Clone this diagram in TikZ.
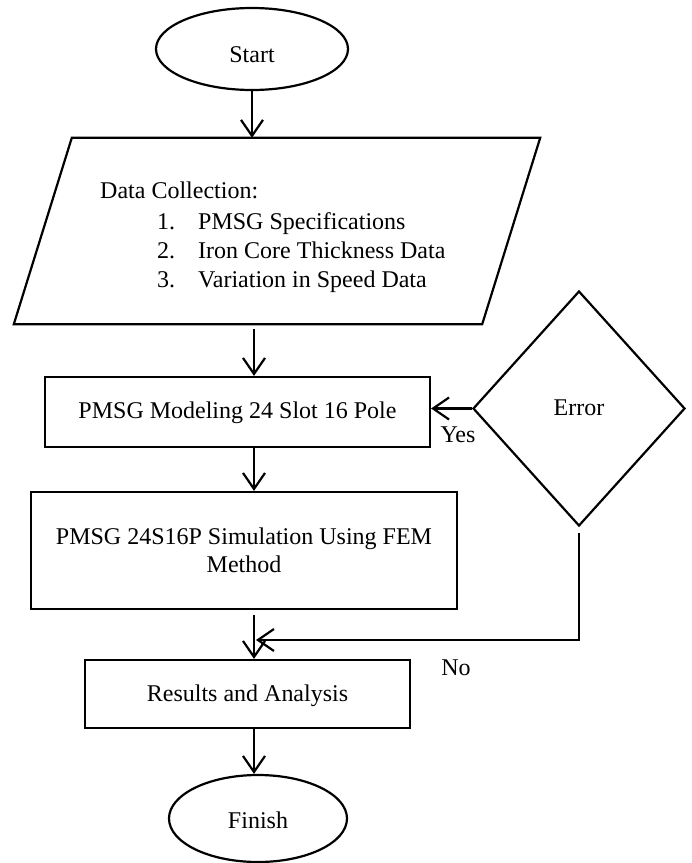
\documentclass[tikz,border=0pt]{standalone}
\usepackage{fontspec}
\setmainfont{Liberation Serif}
\usetikzlibrary{shapes.geometric,arrows.meta}

\begin{document}
\begin{tikzpicture}[x=1pt,y=-1pt,
  every node/.style={font=\fontsize{24}{28}\selectfont, inner sep=0pt},
  line/.style={line width=2.2pt},
  arr/.style={line, -{Straight Barb[length=16pt,width=22pt]}},
  bl/.style={text height=#1, text depth=0pt},
  terminal/.style={draw, line, ellipse},
  procbox/.style={draw, line, rectangle, align=center},
  decision/.style={draw, line, diamond},
  lbl/.style={anchor=base}
]
\useasboundingbox (0,0) rectangle (692,863);

% shared vertical axis of the main flow
\coordinate (spine) at (254,0);

% terminals, process boxes and the decision
\node[terminal, bl=26pt, minimum width=192pt, minimum height=82pt] (start) at (252,49) {Start};
\node[rectangle, minimum width=526pt, minimum height=186pt] (data) at (277,231) {};
\node[procbox, bl=12pt, minimum width=385pt, minimum height=70pt] (model) at (237.5,412) {PMSG Modeling 24 Slot 16 Pole};
\node[procbox, minimum width=426pt, minimum height=117pt] (sim) at (244,550.5) {PMSG 24S16P Simulation Using FEM\\Method};
\node[procbox, bl=14pt, minimum width=325pt, minimum height=68pt] (res) at (247.5,694) {Results and Analysis};
\node[terminal, bl=19pt, minimum width=178pt, minimum height=87pt] (finish) at (258,818.5) {Finish};
\node[decision, bl=13pt, minimum width=212pt, minimum height=235pt] (error) at (579,408.5) {Error};

% slanted outline of the data input block
\draw[line, line join=miter] (data.south west) -- ([xshift=-58pt]data.south east)
  -- (data.north east) -- ([xshift=58pt]data.north west) -- cycle;

% list inside the data input block
\node[anchor=base west] (dchead) at (100,198) {Data Collection:};
\node[anchor=base west] (n1) at (157,229) {1.};
\node[anchor=base west] (i1) at (198,229) {PMSG Specifications};
\node[anchor=base west] (n2) at (157,258) {2.};
\node[anchor=base west] (i2) at (198,258) {Iron Core Thickness Data};
\node[anchor=base west] (n3) at (157,287) {3.};
\node[anchor=base west] (i3) at (198,287) {Variation in Speed Data};

% main flow
\draw[arr] (start.south) -- (start.south |- data.north);
\draw[arr, shorten <=5pt] (spine |- data.south) -- (spine |- model.north);
\draw[arr] (spine |- model.south) -- (spine |- sim.north);
\draw[arr, shorten <=5pt] (spine |- sim.south) -- (spine |- res.north);
\draw[arr] (spine |- res.south) -- (spine |- finish.north);

% decision branches
\draw[arr] (error.west) -- (error.west -| model.east);
\node[lbl] (yes) at (458,442) {Yes};

\coordinate (nojoin) at (254,640);
\draw[arr, shorten <=6pt, shorten >=2pt] (error.south) -- (error.south |- nojoin) -- (nojoin);
\node[lbl] (no) at (456,675) {No};
\end{tikzpicture}
\end{document}
